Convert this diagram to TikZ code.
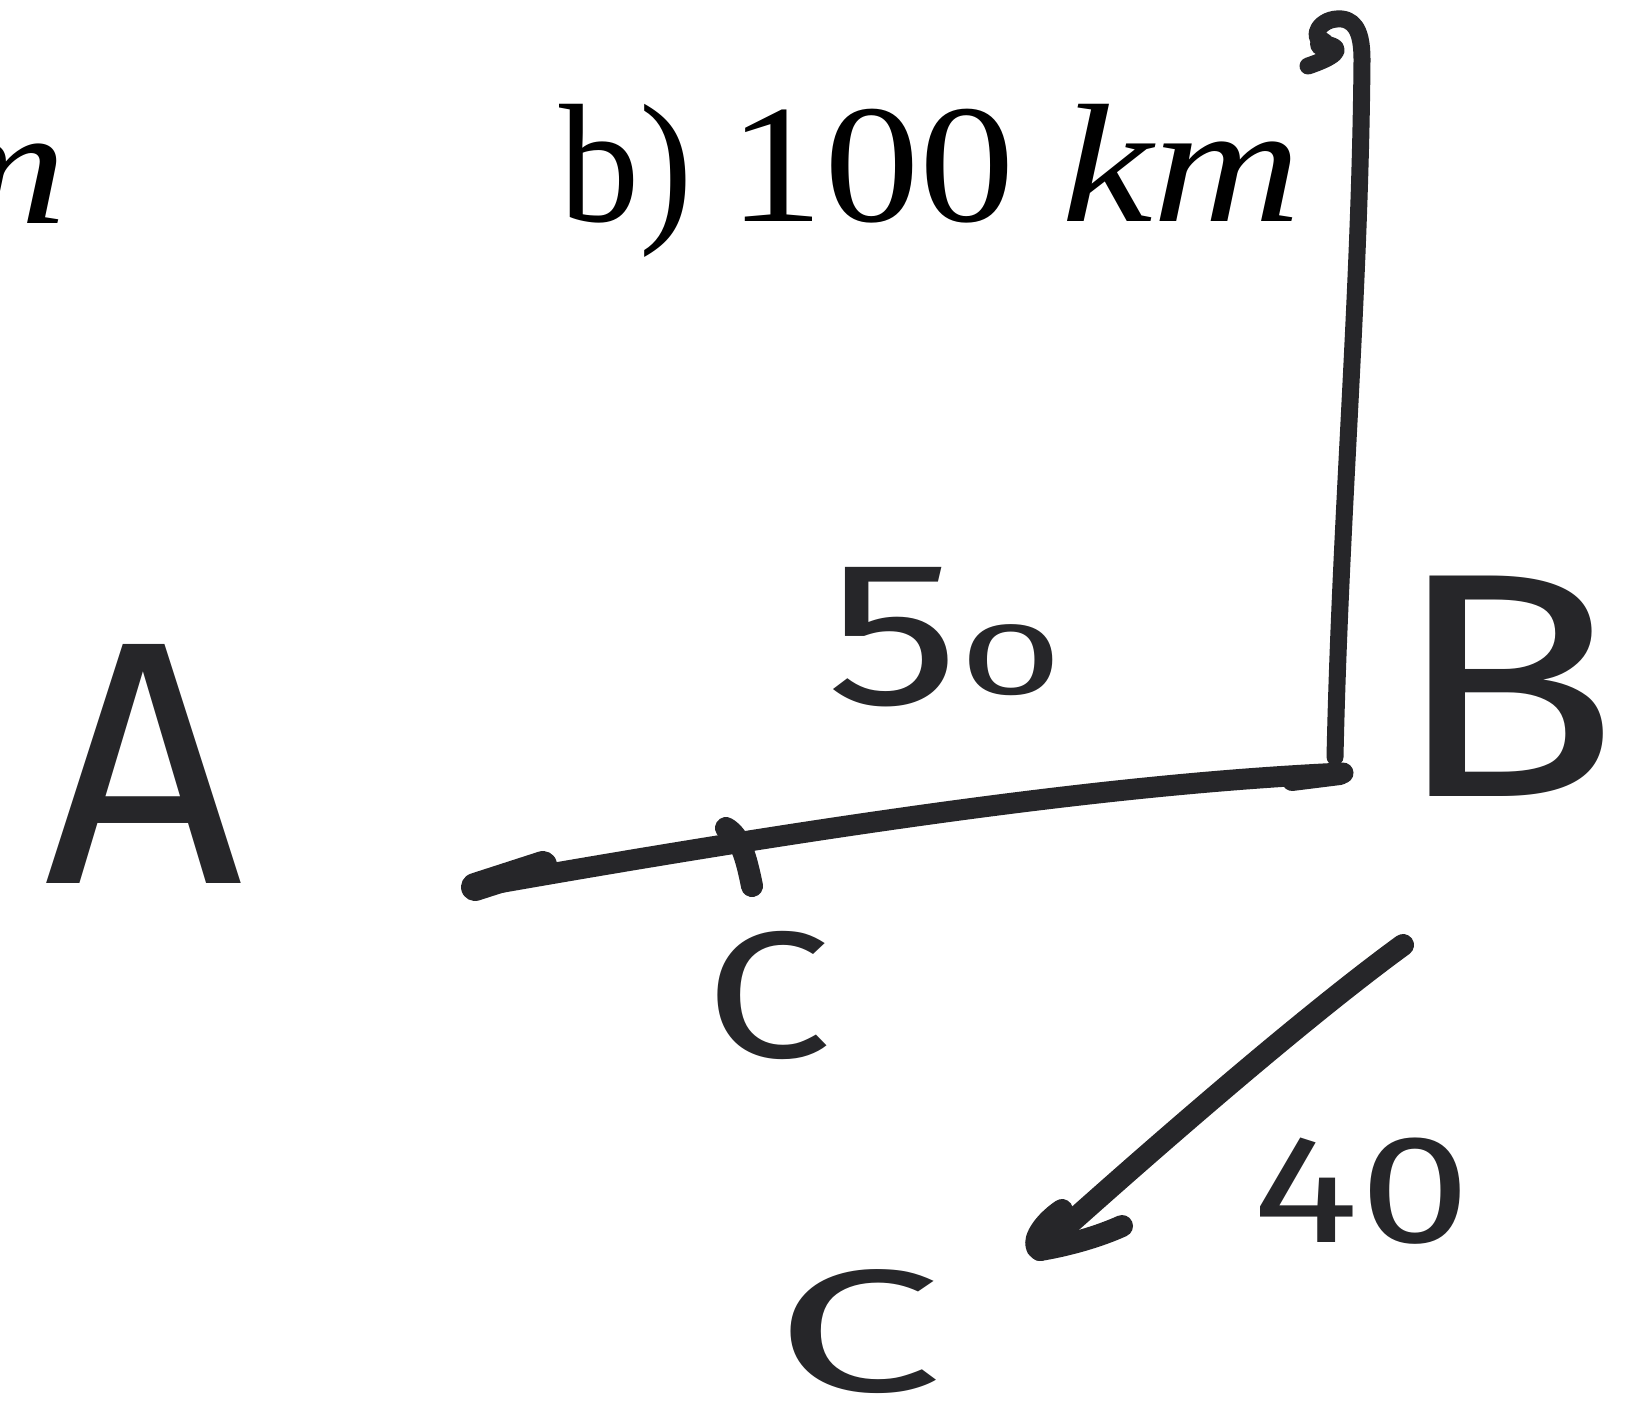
\documentclass[tikz,border=0pt]{standalone}
\usepackage{fontspec}
\setmainfont{Liberation Serif}
\newfontfamily\hand{Fira Sans}
\definecolor{ink}{HTML}{262629}
\begin{document}
\begin{tikzpicture}[x=1pt,y=-1pt,
  stroke/.style={draw=ink,line width=22pt,line cap=round,line join=round},
  hw/.style={text=ink,inner sep=0pt},
  title/.style={text=black,inner sep=0pt,font=\fontsize{169}{169}\selectfont}]
\path[use as bounding box, fill=white] (0,0) rectangle (1629,1421);

% title texts
\node[title, anchor=base west] (tb) at (559,221) {\scalebox{0.95}[1]{b)}\hspace{36pt}\scalebox{1.13}[1]{100}\hspace{46pt}\scalebox{1.22}[1]{\textit{km}}};
\begin{scope}
\clip (0,0) rectangle (1629,1421);
\node[title, anchor=base east] (ta) at (68,223) {\scalebox{1.22}[1]{\textit{m}}};
\end{scope}

% handwritten labels
\node[hw, font={\hand\fontsize{347}{347}\selectfont}] (A) at (144,764) {A};
\node[hw, font={\hand\fontsize{320}{320}\selectfont}] (B) at (1506,686) {\scalebox{1.17}[1]{B}};
\node[hw, font={\hand\fontsize{180}{180}\selectfont}] (C1) at (768,995) {\scalebox{1.25}[1]{C}};
\node[hw, font={\hand\fontsize{150}{150}\selectfont}] (C2) at (858,1332) {\scalebox{2.0}[1.16]{C}};
\node[hw, anchor=base west] (n50) at (826,704) {{\hand\fontsize{205}{205}\selectfont\scalebox{1.3}[1]{5}}\hspace{0pt}\raisebox{10pt}{\hand\fontsize{103}{103}\selectfont\scalebox{1.8}[1]{0}}};
\node[hw, font={\hand\fontsize{154}{154}\selectfont}] (n40) at (1362,1191) {\scalebox{1.3}[1]{40}};

% coordinates
\coordinate (hk) at (1308,66);
\coordinate (top) at (1362,60);
\coordinate (corner) at (1335,757);
\coordinate (right) at (1343,773);
\coordinate (left) at (475,887);
\coordinate (tk1) at (726,828);
\coordinate (tk2) at (752,886);
\coordinate (as) at (1403,945);
\coordinate (tip) at (1040,1250);
\coordinate (bl) at (1062,1210);
\coordinate (br) at (1122,1226);

% vertical line with hook
\draw[stroke, line width=17pt] (hk) .. controls (1332,58) and (1348,48) .. (1325,44)
  .. controls (1308,38) and (1320,17) .. (1342,19)
  .. controls (1358,21) and (1362,38) .. (top)
  .. controls (1360,300) and (1340,520) .. (corner);
\fill[ink] (1322,44) circle (12pt);

% horizontal line
\draw[stroke, line width=21pt] (right) .. controls (1150,782) and (900,812) .. (left);
\draw[stroke, line width=28pt] (left) -- (543,865);
\draw[stroke, line width=20pt] (1292,781) -- (1340,775);
% tick
\draw[stroke, line width=22pt] (tk1) .. controls (740,836) and (746,856) .. (tk2);

% arrow
\draw[stroke] (as) .. controls (1300,1020) and (1140,1160) .. (tip);
\draw[stroke] (bl) .. controls (1040,1225) and (1030,1245) .. (tip)
  .. controls (1070,1245) and (1100,1236) .. (br);
\end{tikzpicture}
\end{document}
